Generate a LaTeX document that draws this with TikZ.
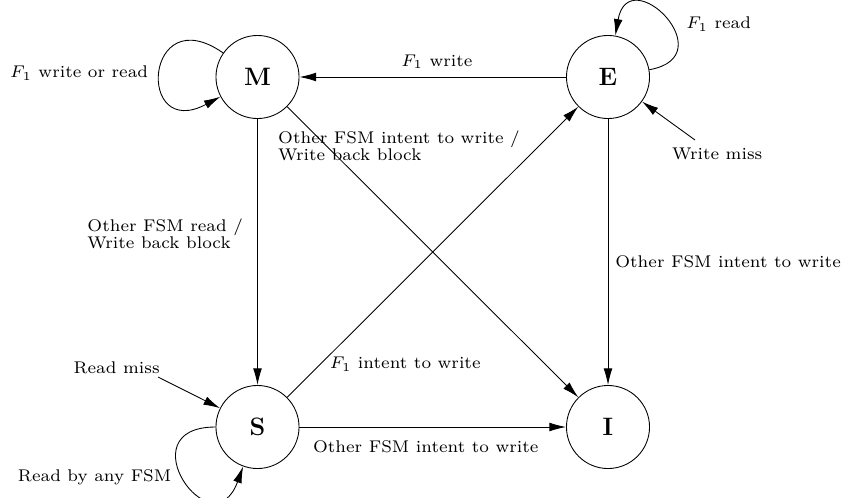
\documentclass[tikz,border=0pt]{standalone}
\usetikzlibrary{arrows.meta}
\begin{document}
\begin{tikzpicture}[x=0.6864pt,y=0.6864pt,
  state/.style={circle,draw,line width=0.6pt,minimum size=57pt,inner sep=0pt,font=\LARGE\bfseries},
  arr/.style={line width=0.6pt,-{Latex[length=11.4pt,width=6pt]}},
  lbl/.style={font=\fontsize{7}{7.07}\selectfont,scale=1.66}]
\useasboundingbox (0,0) rectangle (843,497);
\node[state] (M) at (257.5,420) {M};
\node[state] (E) at (608,420) {E};
\node[state] (S) at (257.5,70) {S};
\node[state] (I) at (608,70) {I};
\coordinate (wm) at (695,357);
\node[anchor=base west,lbl] (wmt) at (663.5,338) {Write miss};
\coordinate (rm) at (158,120);
\node[anchor=base west,lbl] (rmt) at (65,123.7) {Read miss};
% loops
\draw[arr] (M) to[out=145,in=208,distance=66pt] node[pos=0.5,anchor=base east,xshift=-2.4pt,yshift=-4.7pt,lbl] {$F_1$ write or read} (M);
\draw[arr] (E) to[out=10,in=80,distance=53pt] node[pos=0.5,anchor=base west,xshift=8pt,yshift=-6.5pt,lbl] {$F_1$ read} (E);
\draw[arr] (S) to[out=180,in=250,distance=62pt] node[pos=0.5,anchor=base east,xshift=-2.6pt,yshift=-2.3pt,lbl] {Read by any FSM} (S);
% edges
\draw[arr] (E) -- node[pos=0.651,anchor=base west,yshift=7.5pt,lbl] {$F_1$ write} (M);
\draw[arr] (M) -- node[pos=0.342,anchor=north east,xshift=-4pt,align=left,lbl] {Other FSM read /\\Write back block} (S);
\draw[arr] (M) -- node[pos=0.054,anchor=north west,xshift=-23pt,align=left,lbl] {Other FSM intent to write /\\Write back block} (I);
\draw[arr] (S) -- node[pos=0.0985,anchor=base west,xshift=3.5pt,lbl] {$F_1$ intent to write} (E);
\draw[arr] (E) -- node[pos=0.56,anchor=base west,xshift=-1pt,lbl] {Other FSM intent to write} (I);
\draw[arr] (S) -- node[pos=0.018,anchor=base west,yshift=-17.2pt,lbl] {Other FSM intent to write} (I);
\draw[arr] (wm) -- (E);
\draw[arr] (rm) -- (S);
\end{tikzpicture}
\end{document}
